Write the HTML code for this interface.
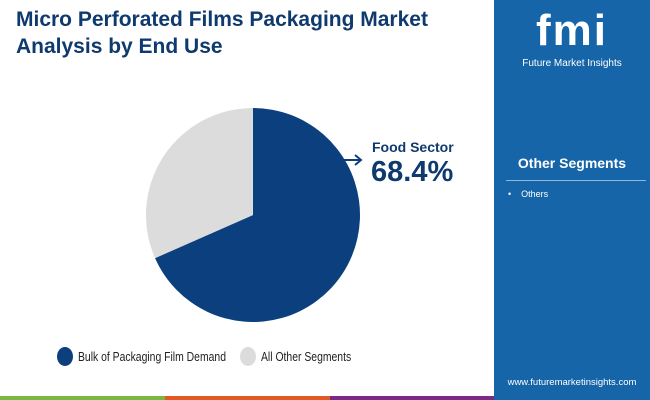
<!DOCTYPE html>
<html><head><meta charset="utf-8"><style>
body{margin:0;width:650px;height:400px;overflow:hidden;background:#fff;font-family:"Liberation Sans",sans-serif;position:relative}
.abs{position:absolute}
.lg{font-size:13px;color:#222;display:flex;align-items:center;white-space:nowrap}
.lg .t{display:inline-block;transform:scaleX(0.8);transform-origin:left center}
</style></head><body>
<div class="abs" style="left:16px;top:6px;font-size:21px;font-weight:bold;color:#0f3a6e;line-height:27px">Micro Perforated Films Packaging Market<br>Analysis by End Use</div>
<div class="abs" style="left:494px;top:0;width:156px;height:400px;background:#1565a8">
  <div class="abs" style="left:0;top:8px;width:156px;text-align:center;color:#fff;font-size:44px;font-weight:bold;letter-spacing:2px;line-height:46px">fmi</div>
  <div class="abs" style="left:0;top:58px;width:156px;text-align:center;color:#fff;font-size:10px">Future Market Insights</div>
  <div class="abs" style="left:0;top:155px;width:156px;text-align:center;color:#fff;font-size:14px;font-weight:bold">Other Segments</div>
  <div class="abs" style="left:12px;top:180px;width:140px;height:1px;background:#8fb6dc"></div>
  <div class="abs" style="left:14px;top:189px;color:#fff;font-size:9px">•&nbsp;&nbsp;&nbsp;&nbsp;Others</div>
  <div class="abs" style="left:0;top:377px;width:156px;text-align:center;color:#fff;font-size:9.5px">www.futuremarketinsights.com</div>
</div>
<div class="abs" style="left:0;top:396px;width:165px;height:4px;background:#7ab642"></div>
<div class="abs" style="left:165px;top:396px;width:165px;height:4px;background:#e05a26"></div>
<div class="abs" style="left:330px;top:396px;width:164px;height:4px;background:#7b2a86"></div>
<svg class="abs" style="left:0;top:0" width="494" height="396" id="pie"></svg>
<div class="abs" style="left:372px;top:139px;color:#0f3a6e;font-size:14px;font-weight:bold">Food Sector</div>
<div class="abs" style="left:371px;top:156px;color:#0f3a6e;font-size:29px;font-weight:bold">68.4%</div>
<div class="abs lg" style="left:57px;top:347px"><span style="display:inline-block;width:16px;height:19px;border-radius:50%;background:#0b3f7e;margin-right:5px"></span><span class="t">Bulk of Packaging Film Demand</span></div>
<div class="abs lg" style="left:240px;top:347px"><span style="display:inline-block;width:16px;height:19px;border-radius:50%;background:#dcdcdc;margin-right:5px"></span><span class="t">All Other Segments</span></div>
<script>
const categories=["Food Sector","All Other Segments"];
const values=[68.4,31.6];
const colors=["#0b3f7e","#dcdcdc"];
const svg=document.getElementById('pie');
const cx=253,cy=215,r=107;
const total=values.reduce((a,b)=>a+b,0);
let a0=-Math.PI/2;
values.forEach((v,i)=>{
  const a1=a0+v/total*2*Math.PI;
  const x0=cx+r*Math.cos(a0),y0=cy+r*Math.sin(a0),x1=cx+r*Math.cos(a1),y1=cy+r*Math.sin(a1);
  const p=document.createElementNS('http://www.w3.org/2000/svg','path');
  p.setAttribute('d',`M${cx},${cy}L${x0},${y0}A${r},${r} 0 ${a1-a0>Math.PI?1:0} 1 ${x1},${y1}Z`);
  p.setAttribute('fill',colors[i]);
  
  
  svg.appendChild(p);
  a0=a1;
});
const ar=document.createElementNS('http://www.w3.org/2000/svg','path');
ar.setAttribute('d','M344,160L360,160M355,155L361,160L355,165');
ar.setAttribute('stroke','#0b3f7e');ar.setAttribute('stroke-width','2');ar.setAttribute('fill','none');


svg.appendChild(ar);
</script>
</body></html>
